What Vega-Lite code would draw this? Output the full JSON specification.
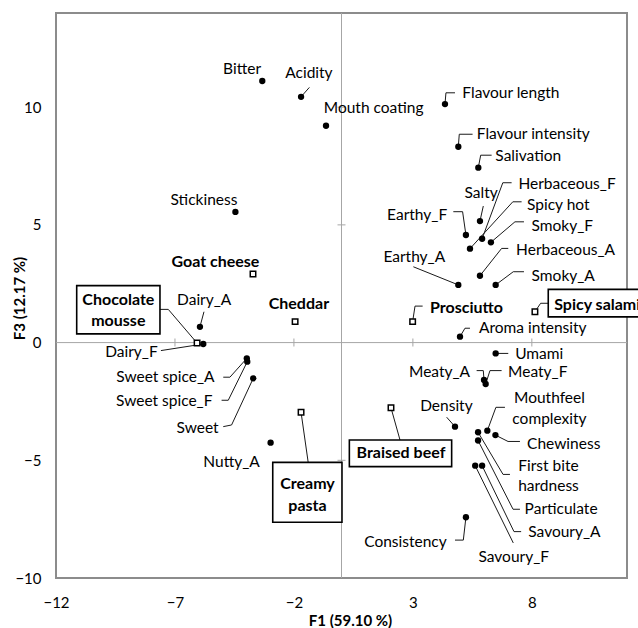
{
  "$schema": "https://vega.github.io/schema/vega-lite/v6.json",
  "width": 571,
  "height": 565,
  "autosize": {"type": "none"},
  "padding": {"left": 56, "top": 13, "right": 11, "bottom": 50},
  "background": "white",
  "config": {
    "font": "Lato",
    "view": {"stroke": "#8c8c8c", "strokeWidth": 2},
    "axis": {
      "grid": false, "domain": false, "ticks": false, "tickSize": 0,
      "labelFont": "Lato", "labelFontSize": 15, "labelColor": "#000", "labelFlush": false,
      "titleFont": "Lato", "titleFontSize": 15, "titleFontWeight": "bold", "titleColor": "#000"
    }
  },
  "datasets": {
    "attributes": [
      {"name": "Bitter", "x": -3.33, "y": 11.11, "lx": -4.18, "ly": 11.62},
      {"name": "Acidity", "x": -1.70, "y": 10.44, "lx": -1.37, "ly": 11.45},
      {"name": "Mouth coating", "x": -0.65, "y": 9.21, "lx": 1.35, "ly": 9.98},
      {"name": "Flavour length", "x": 4.35, "y": 10.13, "lx": 7.12, "ly": 10.61},
      {"name": "Flavour intensity", "x": 4.91, "y": 8.32, "lx": 8.06, "ly": 8.85},
      {"name": "Salivation", "x": 5.75, "y": 7.43, "lx": 7.85, "ly": 7.94},
      {"name": "Stickiness", "x": -4.46, "y": 5.55, "lx": -5.78, "ly": 6.06},
      {"name": "Salty", "x": 5.82, "y": 5.16, "lx": 5.87, "ly": 6.34},
      {"name": "Herbaceous_F", "x": 5.91, "y": 4.41, "lx": 9.48, "ly": 6.74},
      {"name": "Spicy hot", "x": 5.40, "y": 3.99, "lx": 9.11, "ly": 5.84},
      {"name": "Earthy_F", "x": 5.23, "y": 4.57, "lx": 3.18, "ly": 5.42},
      {"name": "Smoky_F", "x": 6.28, "y": 4.26, "lx": 9.28, "ly": 4.96},
      {"name": "Herbaceous_A", "x": 5.82, "y": 2.84, "lx": 9.42, "ly": 3.93},
      {"name": "Earthy_A", "x": 4.91, "y": 2.45, "lx": 3.06, "ly": 3.65},
      {"name": "Smoky_A", "x": 6.48, "y": 2.45, "lx": 9.32, "ly": 2.84},
      {"name": "Aroma intensity", "x": 4.98, "y": 0.25, "lx": 8.04, "ly": 0.61},
      {"name": "Umami", "x": 6.48, "y": -0.46, "lx": 8.31, "ly": -0.49},
      {"name": "Meaty_A", "x": 5.99, "y": -1.59, "lx": 4.12, "ly": -1.26},
      {"name": "Meaty_F", "x": 6.06, "y": -1.76, "lx": 8.25, "ly": -1.26},
      {"name": "Density", "x": 4.77, "y": -3.57, "lx": 4.41, "ly": -2.69},
      {"name": "Mouthfeel\ncomplexity", "x": 6.13, "y": -3.74, "lx": 8.74, "ly": -2.37},
      {"name": "Chewiness", "x": 6.47, "y": -3.93, "lx": 9.34, "ly": -4.31},
      {"name": "First bite\nhardness", "x": 5.74, "y": -3.81, "lx": 8.70, "ly": -5.24},
      {"name": "Particulate", "x": 5.74, "y": -4.16, "lx": 9.23, "ly": -7.08},
      {"name": "Savoury_A", "x": 5.91, "y": -5.23, "lx": 9.37, "ly": -8.03},
      {"name": "Savoury_F", "x": 5.62, "y": -5.23, "lx": 7.24, "ly": -9.10},
      {"name": "Consistency", "x": 5.23, "y": -7.42, "lx": 2.69, "ly": -8.48},
      {"name": "Dairy_A", "x": -5.95, "y": 0.67, "lx": -5.77, "ly": 1.81},
      {"name": "Dairy_F", "x": -5.81, "y": -0.06, "lx": -8.83, "ly": -0.39},
      {"name": "Sweet spice_A", "x": -3.98, "y": -0.67, "lx": -7.40, "ly": -1.47},
      {"name": "Sweet spice_F", "x": -3.96, "y": -0.81, "lx": -7.45, "ly": -2.47},
      {"name": "Sweet", "x": -3.71, "y": -1.52, "lx": -6.05, "ly": -3.64},
      {"name": "Nutty_A", "x": -2.98, "y": -4.25, "lx": -4.62, "ly": -5.06}
    ],
    "products": [
      {"name": "Goat cheese", "x": -3.72, "y": 2.91, "lx": -5.30, "ly": 3.42},
      {"name": "Cheddar", "x": -1.95, "y": 0.89, "lx": -1.79, "ly": 1.64},
      {"name": "Chocolate\nmousse", "x": -6.07, "y": -0.02, "lx": -9.38, "ly": 1.81},
      {"name": "Creamy\npasta", "x": -1.70, "y": -2.96, "lx": -1.43, "ly": -6.02},
      {"name": "Braised beef", "x": 2.08, "y": -2.77, "lx": 2.50, "ly": -4.71},
      {"name": "Prosciutto", "x": 2.99, "y": 0.89, "lx": 5.25, "ly": 1.46},
      {"name": "Spicy salami", "x": 8.13, "y": 1.31, "lx": 10.75, "ly": 1.60}
    ],
    "boxes": [
      {"name": "Chocolate mousse", "x": -11.13, "x2": -7.63, "y": 2.42, "y2": 0.37},
      {"name": "Creamy pasta", "x": -2.89, "x2": 0.02, "y": -5.09, "y2": -7.63},
      {"name": "Braised beef", "x": 0.33, "x2": 4.63, "y": -4.14, "y2": -5.27},
      {"name": "Spicy salami", "x": 8.69, "x2": 13.2, "y": 2.26, "y2": 1.09}
    ],
    "zeroLines": [
      {"x": 0, "y": -10, "x2": 0, "y2": 14},
      {"x": -12, "y": 0, "x2": 12, "y2": 0}
    ],
    "xTicks": [{"x": -7, "y": 0}, {"x": -2, "y": 0}, {"x": 3, "y": 0}, {"x": 8, "y": 0}],
    "yTicks": [{"x": 0, "y": -5}, {"x": 0, "y": 5}, {"x": 0, "y": 10}],
    "leaders": [
      {"name": "Acidity", "x": -1.35, "y": 10.84, "x2": -1.70, "y2": 10.44},
      {"name": "Flavour length", "x": 4.77, "y": 10.61, "x2": 4.39, "y2": 10.61},
      {"name": "Flavour length", "x": 4.39, "y": 10.61, "x2": 4.35, "y2": 10.13},
      {"name": "Flavour intensity", "x": 5.51, "y": 8.85, "x2": 4.95, "y2": 8.85},
      {"name": "Flavour intensity", "x": 4.95, "y": 8.85, "x2": 4.91, "y2": 8.32},
      {"name": "Salivation", "x": 6.31, "y": 7.96, "x2": 5.85, "y2": 7.96},
      {"name": "Salivation", "x": 5.85, "y": 7.96, "x2": 5.75, "y2": 7.43},
      {"name": "Salty", "x": 5.96, "y": 5.80, "x2": 5.82, "y2": 5.16},
      {"name": "Herbaceous_F", "x": 7.15, "y": 6.79, "x2": 6.78, "y2": 6.79},
      {"name": "Herbaceous_F", "x": 6.78, "y": 6.79, "x2": 5.91, "y2": 4.41},
      {"name": "Spicy hot", "x": 7.57, "y": 5.98, "x2": 7.20, "y2": 5.98},
      {"name": "Spicy hot", "x": 7.20, "y": 5.98, "x2": 5.40, "y2": 3.99},
      {"name": "Earthy_F", "x": 4.70, "y": 5.56, "x2": 5.09, "y2": 5.56},
      {"name": "Earthy_F", "x": 5.09, "y": 5.56, "x2": 5.23, "y2": 4.57},
      {"name": "Smoky_F", "x": 7.67, "y": 5.13, "x2": 7.29, "y2": 5.13},
      {"name": "Smoky_F", "x": 7.29, "y": 5.13, "x2": 6.28, "y2": 4.26},
      {"name": "Herbaceous_A", "x": 7.01, "y": 4.00, "x2": 6.73, "y2": 4.00},
      {"name": "Herbaceous_A", "x": 6.73, "y": 4.00, "x2": 5.82, "y2": 2.84},
      {"name": "Earthy_A", "x": 3.02, "y": 3.22, "x2": 4.91, "y2": 2.45},
      {"name": "Smoky_A", "x": 7.67, "y": 3.01, "x2": 7.22, "y2": 3.01},
      {"name": "Smoky_A", "x": 7.22, "y": 3.01, "x2": 6.48, "y2": 2.45},
      {"name": "Prosciutto", "x": 3.41, "y": 1.55, "x2": 3.09, "y2": 1.55},
      {"name": "Prosciutto", "x": 3.09, "y": 1.55, "x2": 2.99, "y2": 0.89},
      {"name": "Spicy salami", "x": 8.69, "y": 1.67, "x2": 8.37, "y2": 1.67},
      {"name": "Spicy salami", "x": 8.37, "y": 1.67, "x2": 8.13, "y2": 1.31},
      {"name": "Aroma intensity", "x": 5.40, "y": 0.61, "x2": 5.19, "y2": 0.61},
      {"name": "Aroma intensity", "x": 5.19, "y": 0.61, "x2": 4.98, "y2": 0.25},
      {"name": "Umami", "x": 7.01, "y": -0.46, "x2": 6.48, "y2": -0.46},
      {"name": "Meaty_A", "x": 5.68, "y": -1.19, "x2": 5.96, "y2": -1.19},
      {"name": "Meaty_A", "x": 5.96, "y": -1.19, "x2": 5.99, "y2": -1.59},
      {"name": "Meaty_F", "x": 6.73, "y": -1.19, "x2": 6.24, "y2": -1.19},
      {"name": "Meaty_F", "x": 6.24, "y": -1.19, "x2": 6.06, "y2": -1.76},
      {"name": "Density", "x": 4.42, "y": -3.17, "x2": 4.77, "y2": -3.57},
      {"name": "Mouthfeel complexity", "x": 6.87, "y": -2.75, "x2": 6.49, "y2": -2.75},
      {"name": "Mouthfeel complexity", "x": 6.49, "y": -2.75, "x2": 6.13, "y2": -3.74},
      {"name": "Chewiness", "x": 7.50, "y": -4.20, "x2": 7.00, "y2": -4.20},
      {"name": "Chewiness", "x": 7.00, "y": -4.20, "x2": 6.47, "y2": -3.93},
      {"name": "First bite hardness", "x": 7.08, "y": -5.60, "x2": 6.79, "y2": -5.60},
      {"name": "First bite hardness", "x": 6.79, "y": -5.60, "x2": 5.74, "y2": -3.81},
      {"name": "Particulate", "x": 7.50, "y": -7.08, "x2": 7.21, "y2": -7.08},
      {"name": "Particulate", "x": 7.21, "y": -7.08, "x2": 5.74, "y2": -4.16},
      {"name": "Savoury_A", "x": 7.55, "y": -8.03, "x2": 7.25, "y2": -8.03},
      {"name": "Savoury_A", "x": 7.25, "y": -8.03, "x2": 5.91, "y2": -5.23},
      {"name": "Savoury_F", "x": 7.22, "y": -8.51, "x2": 5.62, "y2": -5.23},
      {"name": "Consistency", "x": 4.77, "y": -8.39, "x2": 5.12, "y2": -8.39},
      {"name": "Consistency", "x": 5.12, "y": -8.39, "x2": 5.23, "y2": -7.42},
      {"name": "Dairy_A", "x": -5.78, "y": 1.31, "x2": -5.95, "y2": 0.67},
      {"name": "Dairy_F", "x": -7.59, "y": -0.34, "x2": -5.81, "y2": -0.06},
      {"name": "Sweet spice_A", "x": -4.97, "y": -1.47, "x2": -4.69, "y2": -1.47},
      {"name": "Sweet spice_A", "x": -4.69, "y": -1.47, "x2": -3.98, "y2": -0.67},
      {"name": "Sweet spice_F", "x": -5.04, "y": -2.45, "x2": -4.76, "y2": -2.45},
      {"name": "Sweet spice_F", "x": -4.76, "y": -2.45, "x2": -3.96, "y2": -0.81},
      {"name": "Sweet", "x": -4.97, "y": -3.57, "x2": -4.62, "y2": -3.50},
      {"name": "Sweet", "x": -4.62, "y": -3.50, "x2": -3.71, "y2": -1.52},
      {"name": "Chocolate mousse", "x": -7.63, "y": 1.41, "x2": -7.28, "y2": 1.41},
      {"name": "Chocolate mousse", "x": -7.28, "y": 1.41, "x2": -6.07, "y2": -0.02},
      {"name": "Creamy pasta", "x": -1.40, "y": -5.09, "x2": -1.70, "y2": -2.96},
      {"name": "Braised beef", "x": 2.46, "y": -4.14, "x2": 2.08, "y2": -2.77}
    ]
  },
  "encoding": {
    "x": {
      "field": "x", "type": "quantitative",
      "scale": {"domain": [-12, 12], "nice": false, "zero": false},
      "axis": {"values": [-12, -7, -2, 3, 8], "title": "F1 (59.10 %)", "labelPadding": 24, "labelBaseline": "middle", "titleX": 294, "titleY": 42, "titleBaseline": "middle"}
    },
    "y": {
      "field": "y", "type": "quantitative",
      "scale": {"domain": [-10, 14], "nice": false, "zero": false},
      "axis": {"values": [-10, -5, 0, 5, 10], "title": "F3 (12.17 %)", "labelPadding": 15, "titleX": -37, "titleY": 285, "titleBaseline": "middle"}
    }
  },
  "layer": [
    {
      "data": {"name": "zeroLines"},
      "mark": {"type": "rule", "color": "#a6a6a6", "strokeWidth": 1},
      "encoding": {"x2": {"field": "x2"}, "y2": {"field": "y2"}}
    },
    {
      "data": {"name": "xTicks"},
      "mark": {"type": "tick", "orient": "vertical", "size": 8, "thickness": 1, "color": "#a6a6a6", "opacity": 1},
      "encoding": {}
    },
    {
      "data": {"name": "yTicks"},
      "mark": {"type": "tick", "orient": "horizontal", "size": 8, "thickness": 1, "color": "#a6a6a6", "opacity": 1},
      "encoding": {}
    },
    {
      "data": {"name": "leaders"},
      "mark": {"type": "rule", "color": "#1a1a1a", "strokeWidth": 1},
      "encoding": {"x2": {"field": "x2"}, "y2": {"field": "y2"}}
    },
    {
      "data": {"name": "boxes"},
      "mark": {"type": "rect", "fill": "white", "stroke": "#000", "strokeWidth": 1.6},
      "encoding": {"x2": {"field": "x2"}, "y2": {"field": "y2"}}
    },
    {
      "data": {"name": "attributes"},
      "mark": {"type": "point", "shape": "circle", "filled": true, "color": "#000", "opacity": 1, "size": 40},
      "encoding": {}
    },
    {
      "data": {"name": "products"},
      "mark": {"type": "point", "shape": "square", "filled": true, "fill": "white", "stroke": "#000", "strokeWidth": 1.5, "opacity": 1, "size": 30},
      "encoding": {}
    },
    {
      "data": {"name": "attributes"},
      "mark": {"type": "text", "font": "Lato", "fontSize": 15.5, "color": "#000", "align": "center", "baseline": "middle", "lineBreak": "\n", "lineHeight": 20.5},
      "encoding": {
        "x": {"field": "lx", "type": "quantitative", "scale": {"domain": [-12, 12], "nice": false, "zero": false}, "axis": {"values": [-12, -7, -2, 3, 8], "title": "F1 (59.10 %)", "labelPadding": 24, "labelBaseline": "middle", "titleX": 294, "titleY": 42, "titleBaseline": "middle"}},
        "y": {"field": "ly", "type": "quantitative", "scale": {"domain": [-10, 14], "nice": false, "zero": false}, "axis": {"values": [-10, -5, 0, 5, 10], "title": "F3 (12.17 %)", "labelPadding": 15, "titleX": -37, "titleY": 285, "titleBaseline": "middle"}},
        "text": {"field": "name", "type": "nominal"}
      }
    },
    {
      "data": {"name": "products"},
      "mark": {"type": "text", "font": "Lato", "fontSize": 16, "fontWeight": "bold", "color": "#000", "align": "center", "baseline": "middle", "lineBreak": "\n", "lineHeight": 21.5},
      "encoding": {
        "x": {"field": "lx", "type": "quantitative", "scale": {"domain": [-12, 12], "nice": false, "zero": false}, "axis": {"values": [-12, -7, -2, 3, 8], "title": "F1 (59.10 %)", "labelPadding": 24, "labelBaseline": "middle", "titleX": 294, "titleY": 42, "titleBaseline": "middle"}},
        "y": {"field": "ly", "type": "quantitative", "scale": {"domain": [-10, 14], "nice": false, "zero": false}, "axis": {"values": [-10, -5, 0, 5, 10], "title": "F3 (12.17 %)", "labelPadding": 15, "titleX": -37, "titleY": 285, "titleBaseline": "middle"}},
        "text": {"field": "name", "type": "nominal"}
      }
    }
  ]
}
